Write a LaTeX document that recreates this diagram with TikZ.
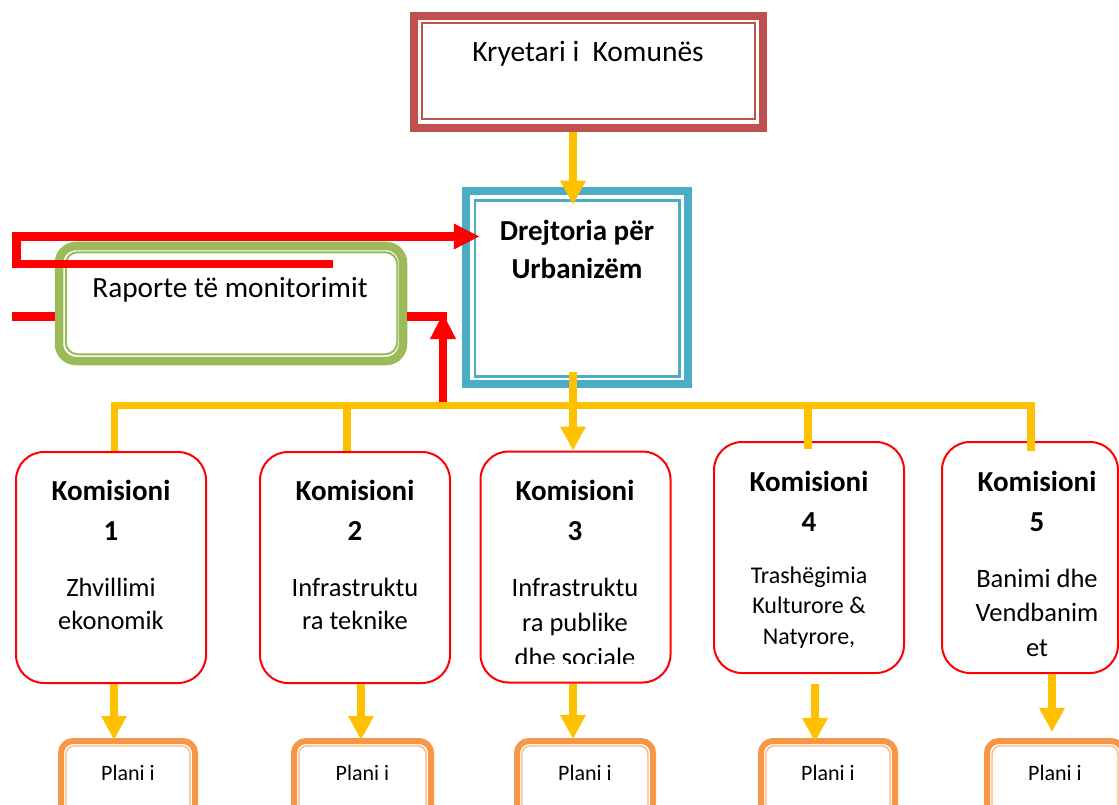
\documentclass[tikz,border=0pt]{standalone}
\usepackage{fontspec}
\setmainfont{Carlito}
\usetikzlibrary{arrows.meta,calc}
\definecolor{kred}{HTML}{C0504D}
\definecolor{dteal}{HTML}{4BACC6}
\definecolor{ggreen}{HTML}{9BBB59}
\definecolor{yel}{HTML}{FFC000}
\definecolor{rred}{HTML}{FF0000}
\definecolor{orng}{HTML}{F79646}
\begin{document}
\begin{tikzpicture}[x=1pt,y=-1pt,
  kbox/.style={draw=kred, line width=8.5pt, minimum width=349pt, minimum height=112pt, inner sep=0pt},
  dbox/.style={draw=dteal, line width=8.5pt, minimum width=222pt, minimum height=193pt, inner sep=0pt},
  gbox/.style={draw=ggreen, line width=8.5pt, minimum width=344pt, minimum height=115pt, inner sep=0pt, rounded corners=17pt},
  cbox/.style={draw=rred, line width=2pt, minimum width=190pt, minimum height=231pt, inner sep=0pt, rounded corners=28pt},
  pbox/.style={draw=orng, line width=6pt, minimum width=135pt, minimum height=100pt, inner sep=0pt, rounded corners=12pt},
  txt/.style={inner sep=0pt, align=center, text=black},
  ctitle/.style={txt, font=\fontsize{29}{40}\selectfont\bfseries},
  cbody/.style={txt, font=\fontsize{26.5}{33}\selectfont},
  ptxt/.style={txt, font=\fontsize{22}{26}\selectfont},
  yl/.style={draw=yel, line width=7.5pt, line join=miter},
  ya/.style={yl, -{Triangle[width=24pt,length=24pt]}},
  rl/.style={draw=rred, line width=8.5pt, line join=miter},
  ra/.style={rl, -{Triangle[width=24pt,length=26pt]}}
]
\useasboundingbox (0,0) rectangle (1119,805);
\clip (0,0) rectangle (1119,805);

% column coordinates
\coordinate (sp) at (573,0);
\coordinate (bus) at (0,405.5);
\coordinate (d1) at (114.5,0);
\coordinate (d2) at (347,0);
\coordinate (d4) at (808,0);
\coordinate (d5) at (1031,0);
\coordinate (e1) at (114,0);
\coordinate (e2) at (361,0);
\coordinate (e4) at (815,0);
\coordinate (e5) at (1052,0);

% Kryetari
\node[kbox] (k) at (588.5,72) {};
\draw[kred, line width=2pt] ($(k.north west)+(12,11)$) rectangle ($(k.south east)+(-12.5,-13)$);
\node[txt, font=\fontsize{29.5}{32}\selectfont] (tk) at (588,54) {Kryetari i~ Komunës};

% Drejtoria
\node[dbox] (dpu) at (577,287.5) {};
\draw[dteal, line width=2.5pt] ($(dpu.north west)+(13,14)$) rectangle ($(dpu.south east)+(-13,-12)$);
\node[txt, font=\fontsize{29}{38}\selectfont\bfseries] (td) at (577,249) {Drejtoria për\\Urbanizëm};

% Raporte
\node[gbox] (rap) at (231,303.5) {};
\draw[ggreen, line width=2pt, rounded corners=12pt] ($(rap.north west)+(11,10.5)$) rectangle ($(rap.south east)+(-10,-11)$);
\node[txt, font=\fontsize{29.3}{32}\selectfont] (tr) at (230,290) {Raporte të monitorimit};

% Commissions
\node[cbox] (c1) at (111,567.5) {};
\node[cbox] (c2) at (355,567.5) {};
\node[cbox] (c3) at (575.5,567) {};
\node[cbox] (c4) at (809,557.5) {};
\node[cbox, minimum width=176pt] (c5) at (1030,557.5) {};

\node[ctitle] (t1) at (111,510) {Komisioni\\1};
\node[ctitle] (t2) at (355,510) {Komisioni\\2};
\node[ctitle] (t3) at (575,510) {Komisioni\\3};
\node[ctitle] (t4) at (809,501) {Komisioni\\4};
\node[ctitle] (t5) at (1037,501) {Komisioni\\5};

\node[cbody] (b1) at (111,603.5) {Zhvillimi\\ekonomik};
\node[cbody] (b2) at (355,603.5) {Infrastruktu\\ra teknike};
\begin{scope}
\clip (470,560) rectangle (680,663);
\node[cbody, font=\fontsize{26.5}{35}\selectfont] (b3) at (575,622) {Infrastruktu\\ra publike\\dhe sociale};
\end{scope}
\node[cbody, font=\fontsize{24}{30.5}\selectfont] (b4) at (809,607.5) {Trashëgimia\\Kulturore \&\\Natyrore,};
\node[cbody, font=\fontsize{26.5}{34.5}\selectfont] (b5) at (1037,612.5) {Banimi dhe\\Vendbanim\\et};

% Plani boxes
\node[pbox, minimum width=134pt] (p1) at (128,791) {};
\node[pbox, minimum width=137pt] (p2) at (362.5,791) {};
\node[pbox, minimum width=136pt] (p3) at (585,791) {};
\node[pbox, minimum width=134pt] (p4) at (828,791) {};
\node[pbox, minimum width=136pt] (p5) at (1055,791) {};
\foreach \p in {p1,p2,p3,p4,p5}{
  \draw[orng!75, line width=1.2pt, rounded corners=8pt] ($(\p.north west)+(8,8)$) rectangle ($(\p.south east)+(-8,-8)$);
}
\node[ptxt] (q1) at (128,773) {Plani i};
\node[ptxt] (q2) at (362.5,773) {Plani i};
\node[ptxt] (q3) at (585,773) {Plani i};
\node[ptxt] (q4) at (828,773) {Plani i};
\node[ptxt] (q5) at (1055,773) {Plani i};

% Yellow connectors
\draw[ya] (k.south -| sp) -- ([yshift=-18pt]dpu.north -| sp);
\draw[yl] ([yshift=16pt]dpu.south -| sp) -- (sp |- bus);
\draw[ya] (sp |- bus) -- (c3.north -| sp);
\draw[yl] (c1.north -| d1) -- (d1 |- bus) -- (d5 |- bus) -- ([yshift=-10pt]c5.north -| d5);
\draw[yl] (c2.north -| d2) -- (d2 |- bus);
\draw[yl] ([yshift=-8pt]c4.north -| d4) -- (d4 |- bus);

\draw[ya] (c1.south -| e1) -- ([yshift=-2pt]p1.north -| e1);
\draw[ya] (c2.south -| e2) -- ([yshift=-2pt]p2.north -| e2);
\draw[ya] (c3.south -| sp) -- ([yshift=-1pt]p3.north -| sp);
\draw[ya] ([yshift=-10pt]c4.south -| e4) -- ([yshift=-4pt]p4.north -| e4);
\draw[ya] (c5.south -| e5) -- ([yshift=6pt]p5.north -| e5);

% Red connectors
\coordinate (r1) at (333,264);
\coordinate (rx) at (16.5,0);
\coordinate (ry) at (0,236.5);
\coordinate (lx) at (12,316.5);
\coordinate (rb) at (443,402);
\coordinate (rt) at (443,313);
\draw[ra] (r1) -- (r1 -| rx) -- (rx |- ry) -- ([xshift=18pt]dpu.west |- ry);
\draw[rl] (lx) -- (rap.west |- lx);
\draw[rl] (rap.east |- lx) -- ([xshift=4.25pt]rt |- lx);
\draw[ra] (rb) -- (rt);
\end{tikzpicture}
\end{document}
